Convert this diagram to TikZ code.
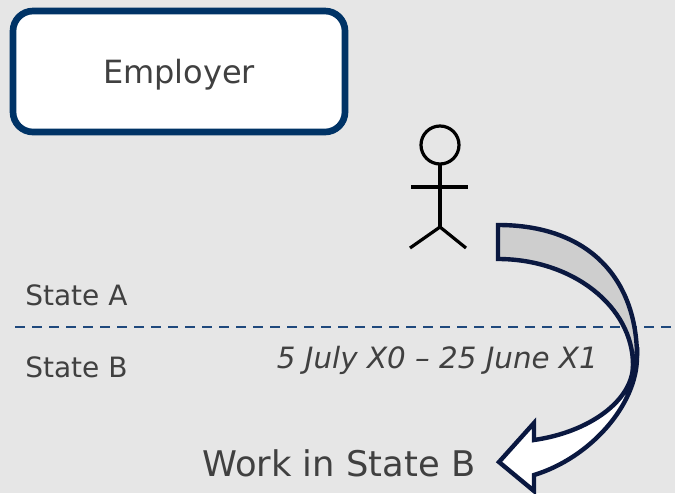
\documentclass[tikz,border=0pt]{standalone}
\usepackage{fontspec}
\setmainfont{DejaVu Sans}

\begin{document}
\begin{tikzpicture}[x=0.75pt,y=-0.75pt,
    etiquette/.style={inner sep=0pt, text=colorTexte},
    trait/.style={line width=2.4pt}]


% Couleurs
\definecolor{colorFond}{RGB}{230,230,230}   % Gris clair (fond)
\definecolor{colorCadre}{RGB}{0,51,102}     % Bleu foncé (cadre)
\definecolor{colorFleche}{RGB}{10,24,64}    % Bleu nuit (contour flèche)
\definecolor{colorDos}{RGB}{206,206,206}    % Gris (dos de la flèche)
\definecolor{colorTirets}{RGB}{31,73,125}   % Bleu (frontière)
\definecolor{colorTexte}{RGB}{64,64,64}     % Gris foncé (textes)

% Fond
\useasboundingbox (0,0) rectangle (675,493);
\fill[colorFond] (0,0) rectangle (675,493);

% Employeur
\node[draw=colorCadre, line width=5pt, fill=white, rounded corners=15pt,
  minimum width=249pt, minimum height=90.75pt, text depth=0pt,
  text=colorTexte, font=\fontsize{24}{28}\selectfont] (employeur) at (179,71.5)
  {Employer};

% Personnage
\draw[trait] (440,145) circle[radius=19]; % Tête
\draw[trait] (440,164) -- (440,227); % Corps
\draw[trait] (411,187) -- (468,187); % Bras
\draw[trait] (410,248) -- (440,227) -- (466,248); % Jambes

% Frontière entre les deux États
\draw[colorTirets, line width=2pt, dash pattern=on 7.5pt off 5.25pt]
  (15,327) -- (675,327);

% Flèche courbe
\filldraw[fill=colorDos, draw=colorFleche, line width=3.3pt] % Partie arrière
  (498,259) -- (498,225) .. controls (590,225) and (637,280) .. (637,357)
  -- (633,365) .. controls (633,306.5) and (572.5,259) .. (498,259) -- cycle;
\filldraw[fill=white, draw=colorFleche, line width=3.3pt] % Partie avant
  (637,357) .. controls (637,405) and (590,458) .. (534,475)
  -- (534,491) -- (499,462) -- (534,423) -- (534,440)
  .. controls (590,432) and (633,400) .. (633,365) -- cycle;

% Légendes
\node[etiquette, anchor=base west, font=\fontsize{21}{25}\selectfont]
  (etatA) at (25,305) {State A};
\node[etiquette, anchor=base west, font=\fontsize{21}{25}\selectfont]
  (etatB) at (25,377) {State B};
\node[etiquette, anchor=base east, font=\fontsize{22}{26}\selectfont\itshape]
  (periode) at (598,368) {5 July X0 – 25 June X1};
\node[etiquette, anchor=base west, font=\fontsize{26.5}{30}\selectfont]
  (travail) at (202,476) {Work in State B};


\end{tikzpicture}
\end{document}
